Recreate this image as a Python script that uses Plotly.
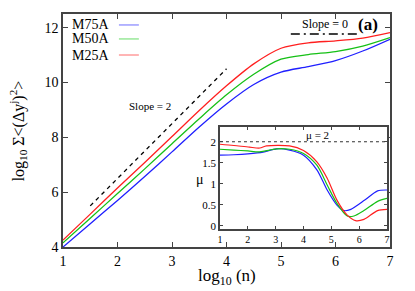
import plotly.graph_objects as go

# ---- data ----
series_names = ["M75A", "M50A", "M25A"]
series_colors = ["#1f1fff", "#16c016", "#ff1f1f"]
legend_colors = ["#9c9cff", "#98e898", "#ff9c9c"]

logn = [1, 1.5, 2, 2.5, 3, 3.5, 4, 4.5, 5, 5.5, 6, 6.5, 7]
msd_m75a = [4.0, 4.85, 5.7, 6.57, 7.47, 8.38, 9.22, 9.93, 10.38, 10.58, 10.8, 11.15, 11.58]
msd_m50a = [4.15, 5.05, 5.95, 6.85, 7.77, 8.68, 9.55, 10.3, 10.85, 11.02, 11.13, 11.33, 11.64]
msd_m25a = [4.25, 5.2, 6.15, 7.08, 8.03, 8.98, 9.88, 10.68, 11.25, 11.45, 11.52, 11.62, 11.82]

mu_x_m75a = [1, 1.5, 2, 2.55, 3.03, 3.5, 4.0, 4.48, 4.85, 5.2, 5.45, 5.7, 6.2, 6.66, 7]
mu_m75a = [1.68, 1.69, 1.71, 1.75, 1.83, 1.80, 1.68, 1.33, 0.85, 0.49, 0.36, 0.39, 0.61, 0.83, 0.85]
mu_x_m50a = [1, 1.5, 2.0, 2.43, 3.03, 3.5, 4.0, 4.48, 4.85, 5.2, 5.57, 5.81, 6.17, 6.66, 7]
mu_m50a = [1.82, 1.80, 1.78, 1.76, 1.83, 1.82, 1.72, 1.44, 0.97, 0.53, 0.23, 0.23, 0.36, 0.58, 0.65]
mu_x_m25a = [1, 1.5, 2.06, 2.43, 2.67, 3.5, 4.0, 4.48, 4.85, 5.2, 5.57, 5.87, 6.17, 6.66, 7]
mu_m25a = [1.94, 1.91, 1.87, 1.85, 1.90, 1.90, 1.79, 1.52, 1.13, 0.61, 0.25, 0.12, 0.15, 0.36, 0.39]

slope2_x = [1.5, 4.0]
slope2_y = [5.5, 10.5]
slope0_x = [5.18, 6.4]
slope0_y = [11.77, 11.77]
mu2_x = [1, 7]
mu2_y = [2, 2]

main_xticks = [1, 2, 3, 4, 5, 6, 7]
main_yticks = [4, 6, 8, 10, 12]
inset_xticks = [1, 2, 3, 4, 5, 6, 7]
inset_yticks = [0, 0.5, 1, 1.5, 2]

FONT = "Liberation Serif, Times New Roman, Times, serif"
FRAME = "#444444"

fig = go.Figure()

msd = [msd_m75a, msd_m50a, msd_m25a]
mux = [mu_x_m75a, mu_x_m50a, mu_x_m25a]
mu = [mu_m75a, mu_m50a, mu_m25a]

for name, col, ys in zip(series_names, series_colors, msd):
    fig.add_trace(go.Scatter(x=logn, y=ys, mode="lines", name=name,
                             line=dict(color=col, width=1.3, shape="spline", smoothing=0.8),
                             showlegend=False, xaxis="x", yaxis="y"))

fig.add_trace(go.Scatter(x=slope2_x, y=slope2_y, mode="lines",
                         line=dict(color="black", width=1.3, dash="4px,4px"),
                         showlegend=False, xaxis="x", yaxis="y"))
fig.add_trace(go.Scatter(x=slope0_x, y=slope0_y, mode="lines",
                         line=dict(color="black", width=1.3, dash="9px,4px,2px,4px"),
                         showlegend=False, xaxis="x", yaxis="y"))

fig.add_trace(go.Scatter(x=mu2_x, y=mu2_y, mode="lines",
                         line=dict(color="#333333", width=1.1, dash="3px,3px"),
                         showlegend=False, xaxis="x2", yaxis="y2"))
for name, col, xs, ys in zip(series_names, series_colors, mux, mu):
    fig.add_trace(go.Scatter(x=xs, y=ys, mode="lines", name=name,
                             line=dict(color=col, width=1.2, shape="spline", smoothing=0.8),
                             showlegend=False, xaxis="x2", yaxis="y2"))

axis_common = dict(showline=True, linecolor=FRAME, linewidth=1.5, mirror="ticks",
                   ticks="inside", tickcolor=FRAME, showgrid=False, zeroline=False,
                   automargin=False)

fig.update_layout(
    width=415, height=291,
    margin=dict(l=63, r=25, t=14, b=44),
    paper_bgcolor="white", plot_bgcolor="white",
    font=dict(family=FONT, color="black"),
    showlegend=False,
    xaxis=dict(range=[1, 7], tickvals=main_xticks, ticklen=5, tickwidth=1,
               tickfont=dict(size=14, family=FONT), **axis_common),
    yaxis=dict(range=[4, 12.5], tickvals=main_yticks, ticklen=5, tickwidth=1,
               tickfont=dict(size=14, family=FONT), **axis_common),
    xaxis2=dict(domain=[0.480, 0.991], anchor="y2", range=[1, 7], tickvals=inset_xticks,
                ticklen=3, tickwidth=1, tickfont=dict(size=10, family=FONT), **axis_common),
    yaxis2=dict(domain=[0.077, 0.515], anchor="x2", range=[-0.08, 2.35], tickvals=inset_yticks,
                ticklen=3, tickwidth=1, tickfont=dict(size=11, family=FONT), **axis_common),
)

# Inset white background
fig.add_shape(type="rect", xref="x2 domain", yref="y2 domain", x0=0, x1=1, y0=0, y1=1,
              fillcolor="white", line=dict(width=0), layer="below")

# axis titles
fig.add_annotation(x=0.50, y=-0.127, xref="paper", yref="paper", text="log<sub>10</sub> (n)",
                   showarrow=False, xanchor="center", yanchor="middle",
                   font=dict(size=17, family=FONT))
fig.add_annotation(x=-0.138, y=0.5, xref="paper", yref="paper",
                   text="log<sub>10</sub> Σ&lt;(Δy<sup>j</sup>)<sup>2</sup>&gt;",
                   showarrow=False, textangle=-90, xanchor="center", yanchor="middle",
                   font=dict(size=16, family=FONT))
fig.add_annotation(x=0.419, y=0.288, xref="paper", yref="paper", text="μ",
                   showarrow=False, xanchor="center", yanchor="middle",
                   font=dict(size=14, family=FONT))

# annotations
fig.add_annotation(x=2.6, y=9.13, xref="x", yref="y", text="Slope = 2", showarrow=False,
                   font=dict(size=11, family=FONT))
fig.add_annotation(x=5.8, y=12.13, xref="x", yref="y", text="Slope = 0", showarrow=False,
                   font=dict(size=12, family=FONT))
fig.add_annotation(x=6.6, y=12.12, xref="x", yref="y", text="<b>(a)</b>", showarrow=False,
                   font=dict(size=17, family=FONT))
fig.add_annotation(x=4.5, y=2.17, xref="x2", yref="y2", text="μ = 2", showarrow=False,
                   font=dict(size=11, family=FONT))

# gnuplot-style legend (text left, sample line right)
legend_y = [0.953, 0.893, 0.824]
for name, col, ly in zip(series_names, legend_colors, legend_y):
    fig.add_annotation(x=0.146, y=ly, xref="paper", yref="paper", text=name, showarrow=False,
                       xanchor="right", yanchor="middle", font=dict(size=14, family=FONT))
    fig.add_shape(type="line", xref="paper", yref="paper", x0=0.171, x1=0.232, y0=ly, y1=ly,
                  line=dict(color=col, width=1.5))

fig.write_html("out.html", config={"displayModeBar": False},
               post_script="document.body.style.margin='0px';")
